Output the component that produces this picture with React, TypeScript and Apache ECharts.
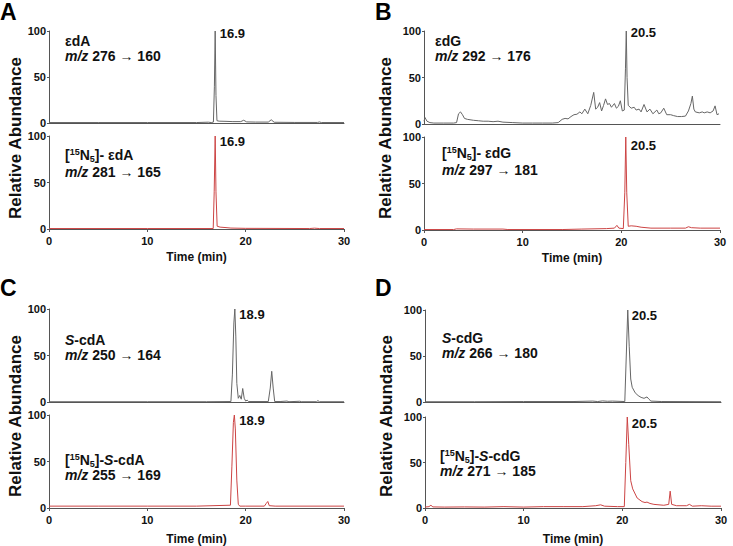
import React, { useEffect, useRef } from "react";
import * as echarts from "echarts";

const FONT = '"Liberation Sans", Arial, Helvetica, sans-serif';

// Chromatogram traces: [time (min), relative abundance]
const edA: [number, number][] = [
  [0, 0.5], [5, 0.5], [10, 0.5], [15, 0.5], [16.2, 0.9], [16.5, 0.5], [16.72, 1], [16.82, 40], [16.9, 100],
  [16.98, 30], [17.08, 2.5], [17.3, 2], [18, 1.8], [18.7, 1.5], [19.5, 1.5], [19.8, 3], [20.1, 1.2], [21, 1],
  [22.3, 1], [22.6, 3.5], [22.9, 0.8], [25, 0.6], [27.3, 0.6], [27.5, 1.1], [27.7, 0.5], [30, 0.5],
];
const edA15N: [number, number][] = [
  [0, 0.5], [10, 0.5], [16.7, 0.5], [16.8, 40], [16.9, 100], [16.98, 40], [17.1, 3], [17.4, 2], [18, 1.5],
  [18.5, 1], [20, 0.7], [26.5, 0.5], [27, 0.9], [27.5, 0.5], [30, 0.5],
];
const edG: [number, number][] = [
  [0, 3], [0.1, 7], [0.3, 3], [0.6, 1.5], [1, 1], [2, 1], [3, 1], [3.3, 1.5], [3.5, 11], [3.7, 13], [3.9, 10],
  [4.1, 6], [4.4, 5], [5, 4], [5.5, 3.5], [6, 3], [6.5, 3], [7, 2.5], [7.5, 3], [8, 2], [9, 1.5], [10, 1],
  [11, 1], [12, 1], [13, 1], [13.6, 1.5], [14, 5], [14.3, 6], [14.6, 5.5], [14.9, 8], [15.2, 10], [15.5, 10.5],
  [15.8, 13], [16, 11], [16.3, 16], [16.6, 11], [16.9, 20], [17.2, 34], [17.4, 16], [17.6, 18], [17.8, 23],
  [18, 14], [18.2, 20], [18.4, 27], [18.6, 21], [18.8, 22], [19, 18], [19.3, 22], [19.5, 17], [19.7, 19],
  [19.9, 25], [20.1, 14], [20.3, 15], [20.42, 60], [20.5, 100], [20.58, 50], [20.7, 20], [21, 17], [21.3, 18],
  [21.5, 15], [21.8, 16], [22, 13], [22.3, 21], [22.6, 13], [22.9, 16], [23.2, 11], [23.6, 15], [23.8, 11],
  [24, 12], [24.3, 17], [24.6, 10], [25, 10], [25.3, 9], [25.7, 8], [26.1, 8], [26.5, 8.5], [26.8, 14],
  [27.05, 22], [27.2, 30], [27.35, 16], [27.5, 13], [27.9, 12], [28.2, 13], [28.4, 12], [28.7, 13], [29, 12],
  [29.3, 14], [29.5, 19.5], [29.7, 10], [29.9, 11],
];
const edG15N: [number, number][] = [
  [0, 0.5], [3, 0.5], [3.3, 1.2], [5, 1], [8, 1], [8.5, 0.5], [14, 0.5], [16, 1], [18.5, 1.5], [19.3, 2],
  [19.55, 5], [19.75, 2], [20.2, 1.5], [20.35, 40], [20.45, 100], [20.55, 40], [20.7, 4], [21, 4.5], [21.5, 4],
  [22, 3], [23, 2], [25, 2], [26.5, 2], [26.8, 3.5], [27.1, 2.5], [28, 2], [30, 2],
];
const cdA: [number, number][] = [
  [0, 0.3], [10, 0.3], [16, 0.3], [18.5, 0.5], [18.65, 30], [18.8, 85], [18.9, 100], [19, 70], [19.1, 20],
  [19.25, 4], [19.4, 7], [19.55, 3], [19.7, 14.5], [19.85, 4], [20, 1], [20.15, 2], [20.3, 0.5], [22.3, 0.5],
  [22.5, 15], [22.65, 33], [22.8, 15], [22.95, 0.5], [23.5, 0.5], [24.2, 1], [24.4, 0.3], [25.5, 0.8],
  [25.7, 0.3], [27.2, 0.3], [27.35, 1.5], [27.5, 0.3], [30, 0.3],
];
const cdA15N: [number, number][] = [
  [0, 2], [5, 2], [10, 2], [15, 2], [18.45, 3], [18.6, 45], [18.75, 92], [18.85, 100], [18.95, 85],
  [19.1, 30], [19.25, 4], [19.4, 2], [20, 2], [21.9, 2], [22.1, 5], [22.25, 7], [22.4, 2.5], [23, 2], [30, 2],
];
const cdG: [number, number][] = [
  [0, 0.3], [5, 0.3], [10, 0.5], [15, 0.5], [17, 1], [17.5, 0.5], [18, 1.2], [18.5, 0.8], [19, 1],
  [20.25, 0.5], [20.4, 50], [20.55, 100], [20.7, 60], [20.85, 25], [21, 16], [21.3, 10], [21.6, 7], [21.9, 5],
  [22.2, 4], [22.5, 5.5], [22.7, 3], [22.9, 1], [24, 0.5], [30, 0.3],
];
const cdG15N: [number, number][] = [
  [0, 1], [0.4, 1.5], [0.6, 3], [0.8, 1.2], [2, 1], [4, 1.2], [6, 1], [8, 1.5], [10, 1], [12, 1.5], [14, 1.5],
  [16, 1.5], [17.3, 2.5], [17.8, 3.5], [18.2, 2], [19.5, 1.5], [20.2, 1.5], [20.35, 50], [20.5, 100],
  [20.65, 70], [20.85, 30], [21.05, 21], [21.5, 11], [22, 7], [22.3, 6], [22.5, 6.5], [22.8, 5], [23.2, 4],
  [24.2, 3], [24.7, 4], [24.85, 18.5], [25, 4], [25.5, 2.5], [26.5, 2.5], [26.8, 4], [27.1, 2], [28, 2.5],
  [29, 2], [30, 2],
];

const traces = [edA, edA15N, edG, edG15N, cdA, cdA15N, cdG, cdG15N];
const peakTimes = [16.9, 16.9, 20.5, 20.5, 18.9, 18.9, 20.5, 20.5];
const peakLabels = ["16.9", "16.9", "20.5", "20.5", "18.9", "18.9", "20.5", "20.5"];
const yTicks = [0, 50, 100];
const xTicks = [0, 10, 20, 30];

// layout (pixels)
const grids = [
  { left: 49, top: 31, width: 295, height: 92 },
  { left: 49, top: 136, width: 295, height: 93 },
  { left: 424, top: 31, width: 296, height: 93 },
  { left: 424, top: 137, width: 296, height: 93 },
  { left: 49, top: 309, width: 295, height: 93 },
  { left: 49, top: 415, width: 295, height: 93 },
  { left: 425, top: 310, width: 296, height: 92 },
  { left: 425, top: 417, width: 296, height: 93 },
];
const labelDy = [2, 5, 1, 8, 5, 5, 5, 6];

const GRAY = "#666666";
const RED = "#cc4444";
const AXIS = "#555";

const rich = {
  n: { fontSize: 14, fontWeight: "bold", fontFamily: FONT, color: "#111", lineHeight: 16 },
  i: { fontSize: 14, fontWeight: "bold", fontStyle: "italic", fontFamily: FONT, color: "#111", lineHeight: 16 },
  sup: { fontSize: 9, fontWeight: "bold", fontFamily: FONT, color: "#111", lineHeight: 10, verticalAlign: "top" },
  sub: { fontSize: 9, fontWeight: "bold", fontFamily: FONT, color: "#111", lineHeight: 10, verticalAlign: "bottom" },
};

const annotations: { x: number; y: number; text: string }[] = [
  { x: 65, y: 41, text: "{n|εdA}" },
  { x: 65, y: 56, text: "{i|m/z}{n| 276 → 160}" },
  { x: 65, y: 155, text: "{n|[}{sup|15}{n|N}{sub|5}{n|]- εdA}" },
  { x: 65, y: 172, text: "{i|m/z}{n| 281 → 165}" },
  { x: 435, y: 41, text: "{n|εdG}" },
  { x: 435, y: 56, text: "{i|m/z}{n| 292 → 176}" },
  { x: 442, y: 153, text: "{n|[}{sup|15}{n|N}{sub|5}{n|]- εdG}" },
  { x: 442, y: 170, text: "{i|m/z}{n| 297 → 181}" },
  { x: 65, y: 340, text: "{i|S}{n|-cdA}" },
  { x: 65, y: 355, text: "{i|m/z}{n| 250 → 164}" },
  { x: 65, y: 460, text: "{n|[}{sup|15}{n|N}{sub|5}{n|]-}{i|S}{n|-cdA}" },
  { x: 65, y: 475, text: "{i|m/z}{n| 255 → 169}" },
  { x: 442, y: 338, text: "{i|S}{n|-cdG}" },
  { x: 442, y: 353, text: "{i|m/z}{n| 266 → 180}" },
  { x: 440, y: 456, text: "{n|[}{sup|15}{n|N}{sub|5}{n|]-}{i|S}{n|-cdG}" },
  { x: 440, y: 471, text: "{i|m/z}{n| 271 → 185}" },
];

const panelLetters = [
  { x: 0, y: 0, t: "A" },
  { x: 375, y: 0, t: "B" },
  { x: 0, y: 276, t: "C" },
  { x: 375, y: 276, t: "D" },
];
const yTitles = [
  { x: 15, y: 138 },
  { x: 385, y: 138 },
  { x: 15, y: 416 },
  { x: 386, y: 416 },
];

export default function App() {
  const ref = useRef<HTMLDivElement>(null);
  useEffect(() => {
    if (!ref.current) return;
    const chart = echarts.init(ref.current, null, { renderer: "svg" });
    const isBottom = (i: number) => i % 2 === 1;
    const option: any = {
      animation: false,
      backgroundColor: "#fff",
      grid: grids.map((g) => ({ ...g, containLabel: false })),
      xAxis: grids.map((_, i) => ({
        gridIndex: i,
        type: "value",
        min: xTicks[0],
        max: xTicks[xTicks.length - 1],
        interval: 10,
        axisLine: { show: true, onZero: false, lineStyle: { color: AXIS, width: 1 } },
        axisTick: { show: isBottom(i), length: 3, lineStyle: { color: AXIS } },
        axisLabel: {
          show: isBottom(i),
          fontSize: 11,
          fontWeight: "bold",
          fontFamily: FONT,
          color: "#111",
          margin: 6,
        },
        splitLine: { show: false },
        name: isBottom(i) ? "Time (min)" : "",
        nameLocation: "middle",
        nameGap: i >= 4 ? 25 : 22,
        nameTextStyle: { fontSize: 12, fontWeight: "bold", fontFamily: FONT, color: "#111", verticalAlign: "top" },
      })),
      yAxis: grids.map((_, i) => ({
        gridIndex: i,
        type: "value",
        min: yTicks[0],
        max: yTicks[yTicks.length - 1],
        interval: 50,
        axisLine: { show: true, lineStyle: { color: AXIS, width: 1 } },
        axisTick: { show: true, length: 2, lineStyle: { color: AXIS } },
        axisLabel: { fontSize: 11, fontWeight: "bold", fontFamily: FONT, color: "#111", margin: 3 },
        splitLine: { show: false },
      })),
      series: traces.map((d, i) => ({
        type: "line",
        xAxisIndex: i,
        yAxisIndex: i,
        data: d,
        showSymbol: false,
        symbol: "none",
        silent: true,
        lineStyle: { color: isBottom(i) ? RED : GRAY, width: 1 },
        markPoint: {
          symbol: "circle",
          symbolSize: 1,
          itemStyle: { color: "rgba(0,0,0,0)" },
          data: [{ coord: [peakTimes[i], 100] }],
          label: {
            show: true,
            position: "right",
            distance: 4,
            offset: [0, labelDy[i]],
            formatter: peakLabels[i],
            fontSize: 13,
            fontWeight: "bold",
            fontFamily: FONT,
            color: "#111",
          },
        },
      })),
      graphic: [
        ...panelLetters.map((p) => ({
          type: "text",
          x: p.x,
          y: p.y,
          style: { text: p.t, fontSize: 23, fontWeight: "bold", fontFamily: FONT, fill: "#000" },
        })),
        ...yTitles.map((p) => ({
          type: "text",
          x: p.x,
          y: p.y,
          rotation: Math.PI / 2,
          style: {
            text: "Relative Abundance",
            fontSize: 17,
            fontWeight: "bold",
            fontFamily: FONT,
            fill: "#111",
            align: "center",
            verticalAlign: "middle",
          },
        })),
        ...annotations.map((a) => ({
          type: "text",
          x: a.x,
          y: a.y,
          style: { text: a.text, rich, align: "left", verticalAlign: "middle", fill: "#111" },
        })),
      ],
    };
    chart.setOption(option);
    return () => chart.dispose();
  }, []);
  return (
    <div
      ref={ref}
      style={{ position: "fixed", left: 0, top: 0, width: 733, height: 546, background: "#fff" }}
    />
  );
}
